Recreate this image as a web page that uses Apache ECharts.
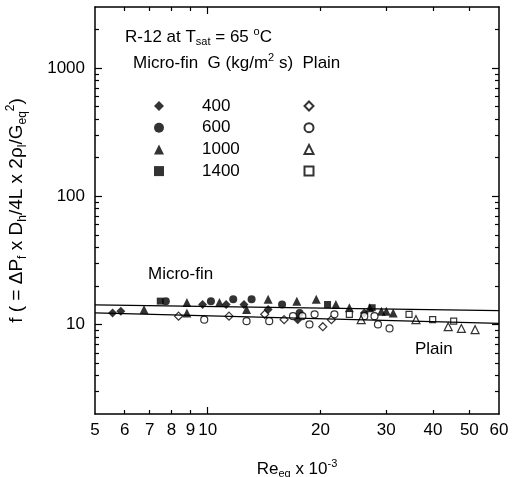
<!DOCTYPE html>
<html>
<head>
<meta charset="utf-8">
<script src="https://cdn.jsdelivr.net/npm/echarts@6/dist/echarts.min.js"></script>
<style>
  html, body { margin: 0; padding: 0; background: #fff; }
  #chart { width: 512px; height: 477px; }
</style>
</head>
<body>
<div id="chart"></div>
<script>
// Re_eq x 10^-3 vs friction factor f, R-12 at Tsat = 65 C
const xLabelValues = [5, 6, 7, 8, 9, 10, 20, 30, 40, 50, 60]
const xMajorTicks = [10]
const xMinorTicks = [6, 7, 8, 9, 20, 30, 40, 50]
const yLabelValues = [10, 100, 1000]
const yMajorTicks = [10, 100, 1000]
const yMinorTicks = [3, 4, 5, 6, 7, 8, 9, 20, 30, 40, 50, 60, 70, 80, 90, 200, 300, 400, 500, 600, 700, 800, 900, 2000]

const massFluxes = ['400', '600', '1000', '1400']

// micro-fin tube (filled symbols)
const microfin400 = [[5.57, 12.3], [5.86, 12.7], [9.69, 14.3], [11.2, 14.3], [12.5, 14.3], [14.5, 13.1], [17.4, 10.9], [26.2, 12.3]]
const microfin600 = [[7.73, 15.2], [10.2, 15.2], [11.7, 15.7], [13.1, 15.7], [15.8, 14.3], [17.6, 12.3]]
const microfin1000 = [[6.76, 13.1], [8.8, 14.8], [8.8, 12.3], [10.75, 14.8], [12.7, 13.1], [14.5, 15.7], [17.3, 15.2], [19.5, 15.7], [22.0, 14.3], [23.9, 13.5], [27.1, 13.5], [29.1, 12.7], [30.0, 12.7], [31.3, 12.3]]
const microfin1400 = [[7.47, 15.2], [20.9, 14.3], [27.5, 13.5]]

// plain tube (open symbols)
const plain400 = [[8.36, 11.6], [11.4, 11.6], [14.2, 12.0], [16.0, 10.9], [20.3, 9.6], [21.4, 10.9]]
const plain600 = [[9.79, 10.9], [12.7, 10.6], [14.6, 10.6], [16.9, 11.6], [17.9, 11.6], [18.7, 10.0], [19.3, 12.0], [21.8, 12.0], [26.2, 11.6], [27.9, 11.6], [28.5, 10.0], [30.6, 9.3]]
const plain1000 = [[25.7, 10.9], [36.0, 10.9], [43.9, 9.6], [47.6, 9.3], [51.8, 9.1]]
const plain1400 = [[23.9, 12.0], [34.5, 12.0], [39.9, 10.9], [45.4, 10.6]]

// correlation lines
const fitRe = [5, 60]
const microfinFit = [14.2, 12.8]
const plainFit = [12.3, 10.2]

const symbols = ['diamond', 'circle', 'triangle', 'rect']
const symbolSizes = [9, 8, 9, 7]
const microfinData = [microfin400, microfin600, microfin1000, microfin1400]
const plainData = [plain400, plain600, plain1000, plain1400]

const X_MIN = 5, X_MAX = 60, Y_MIN = 2, Y_MAX = 3000

const font = 'Liberation Sans, Arial, sans-serif'
const rich = {
  n: { fontSize: 17, fontFamily: font, fontWeight: 'normal', color: '#000' },
  sub: { fontSize: 11, fontFamily: font, fontWeight: 'normal', color: '#000', padding: [10, 0, 0, 0] },
  sup: { fontSize: 11, fontFamily: font, fontWeight: 'normal', color: '#000', padding: [0, 0, 11, 0] }
}
const richY = {
  n: { fontSize: 19, fontFamily: font, color: '#000' },
  sub: { fontSize: 12, fontFamily: font, color: '#000', padding: [11, 0, 0, 0] },
  sup: { fontSize: 12, fontFamily: font, color: '#000', padding: [0, 0, 12, 0] }
}

// tick-only axes, drawn in log10 space so tick positions come from the axis itself
function tickAxis(dim, position, ticks, tickLen, showLine) {
  const lo = dim === 'x' ? X_MIN : Y_MIN
  const hi = dim === 'x' ? X_MAX : Y_MAX
  return {
    type: 'value', min: Math.log10(lo), max: Math.log10(hi), position: position, gridIndex: 0,
    axisLine: { show: showLine, lineStyle: { color: '#000', width: 1.5 } },
    axisTick: { show: true, inside: true, length: tickLen, customValues: ticks.map(Math.log10), lineStyle: { color: '#000', width: 1.2 } },
    axisLabel: { show: false },
    splitLine: { show: false }
  }
}

const xAxes = [
  {
    type: 'log', min: X_MIN, max: X_MAX, position: 'bottom', gridIndex: 0,
    axisLine: { show: true, lineStyle: { color: '#000', width: 1.5 } },
    axisTick: { show: false },
    axisLabel: { customValues: xLabelValues, fontSize: 17, fontFamily: font, color: '#000', margin: 8, formatter: v => String(v) },
    splitLine: { show: false },
    name: '{n|Re}{sub|eq}{n| x 10}{sup|-3}',
    nameLocation: 'middle', nameGap: 44,
    nameTextStyle: { rich: rich }
  },
  tickAxis('x', 'bottom', xMajorTicks, 7, false),
  tickAxis('x', 'bottom', xMinorTicks, 4, false),
  tickAxis('x', 'top', xMajorTicks, 7, true),
  tickAxis('x', 'top', xMinorTicks, 4, false)
]

const yAxes = [
  {
    type: 'log', min: Y_MIN, max: Y_MAX, position: 'left', gridIndex: 0,
    axisLine: { show: true, lineStyle: { color: '#000', width: 1.5 } },
    axisTick: { show: false },
    axisLabel: { customValues: yLabelValues, fontSize: 17, fontFamily: font, color: '#000', margin: 10, formatter: v => String(v) },
    splitLine: { show: false },
    name: '{n|f ( = ΔP}{sub|f}{n| x D}{sub|h}{n|/4L x 2ρ}{sub|l}{n|/G}{sub|eq}{sup|2}{n|)}',
    nameLocation: 'middle', nameGap: 66,
    nameTextStyle: { rich: richY }
  },
  tickAxis('y', 'left', yMajorTicks, 7, false),
  tickAxis('y', 'left', yMinorTicks, 4, false),
  tickAxis('y', 'right', yMajorTicks, 7, true),
  tickAxis('y', 'right', yMinorTicks, 4, false)
]

const series = []
massFluxes.forEach((g, i) => {
  series.push({
    name: 'Micro-fin ' + g, type: 'scatter', xAxisIndex: 0, yAxisIndex: 0,
    symbol: symbols[i], symbolSize: symbolSizes[i],
    itemStyle: { color: '#000' },
    data: microfinData[i]
  })
})
massFluxes.forEach((g, i) => {
  series.push({
    name: 'Plain ' + g, type: 'scatter', xAxisIndex: 0, yAxisIndex: 0,
    symbol: symbols[i], symbolSize: symbolSizes[i] - 1,
    itemStyle: { color: '#fff', borderColor: '#000', borderWidth: 1.2 },
    data: plainData[i]
  })
})
series.push({
  name: 'micro-fin fit', type: 'line', symbol: 'none', silent: true,
  xAxisIndex: 0, yAxisIndex: 0,
  lineStyle: { color: '#000', width: 1.3 },
  data: fitRe.map((x, i) => [x, microfinFit[i]])
})
series.push({
  name: 'plain fit', type: 'line', symbol: 'none', silent: true,
  xAxisIndex: 0, yAxisIndex: 0,
  lineStyle: { color: '#000', width: 1.3 },
  data: fitRe.map((x, i) => [x, plainFit[i]])
})

const option = {
  animation: false,
  backgroundColor: '#fff',
  grid: { left: 95, top: 7, width: 404, height: 407, outerBoundsMode: 'none' },
  title: [
    { text: '{n|R-12 at T}{sub|sat}{n| = 65 }{sup|o}{n|C}', left: 120, top: 22, textStyle: { rich: rich, lineHeight: 20 } },
    { text: '{n|Micro-fin  G (kg/m}{sup|2}{n| s)  Plain}', left: 128, top: 48, textStyle: { rich: rich, lineHeight: 20 } },
    { text: '{n|Micro-fin}', left: 143, top: 259, textStyle: { rich: rich, lineHeight: 20 } },
    { text: '{n|Plain}', left: 410, top: 334, textStyle: { rich: rich, lineHeight: 20 } }
  ],
  legend: [
    {
      data: massFluxes.map(g => 'Micro-fin ' + g),
      orient: 'vertical', left: 149, top: 92.5, itemGap: 4.7,
      itemWidth: 10, itemHeight: 10, selectedMode: false,
      formatter: name => name.split(' ')[1],
      textStyle: { fontSize: 17, fontFamily: font, color: '#000', lineHeight: 17, padding: [0, 0, 0, 33] }
    },
    {
      data: massFluxes.map(g => 'Plain ' + g),
      orient: 'vertical', left: 298.5, top: 92.5, itemGap: 4.7,
      itemWidth: 9, itemHeight: 9, selectedMode: false,
      formatter: () => ' ',
      textStyle: { fontSize: 17, fontFamily: font, color: '#000', lineHeight: 17 }
    }
  ],
  xAxis: xAxes,
  yAxis: yAxes,
  series: series
}

const chart = echarts.init(document.getElementById('chart'))
chart.setOption(option)
</script>
</body>
</html>
